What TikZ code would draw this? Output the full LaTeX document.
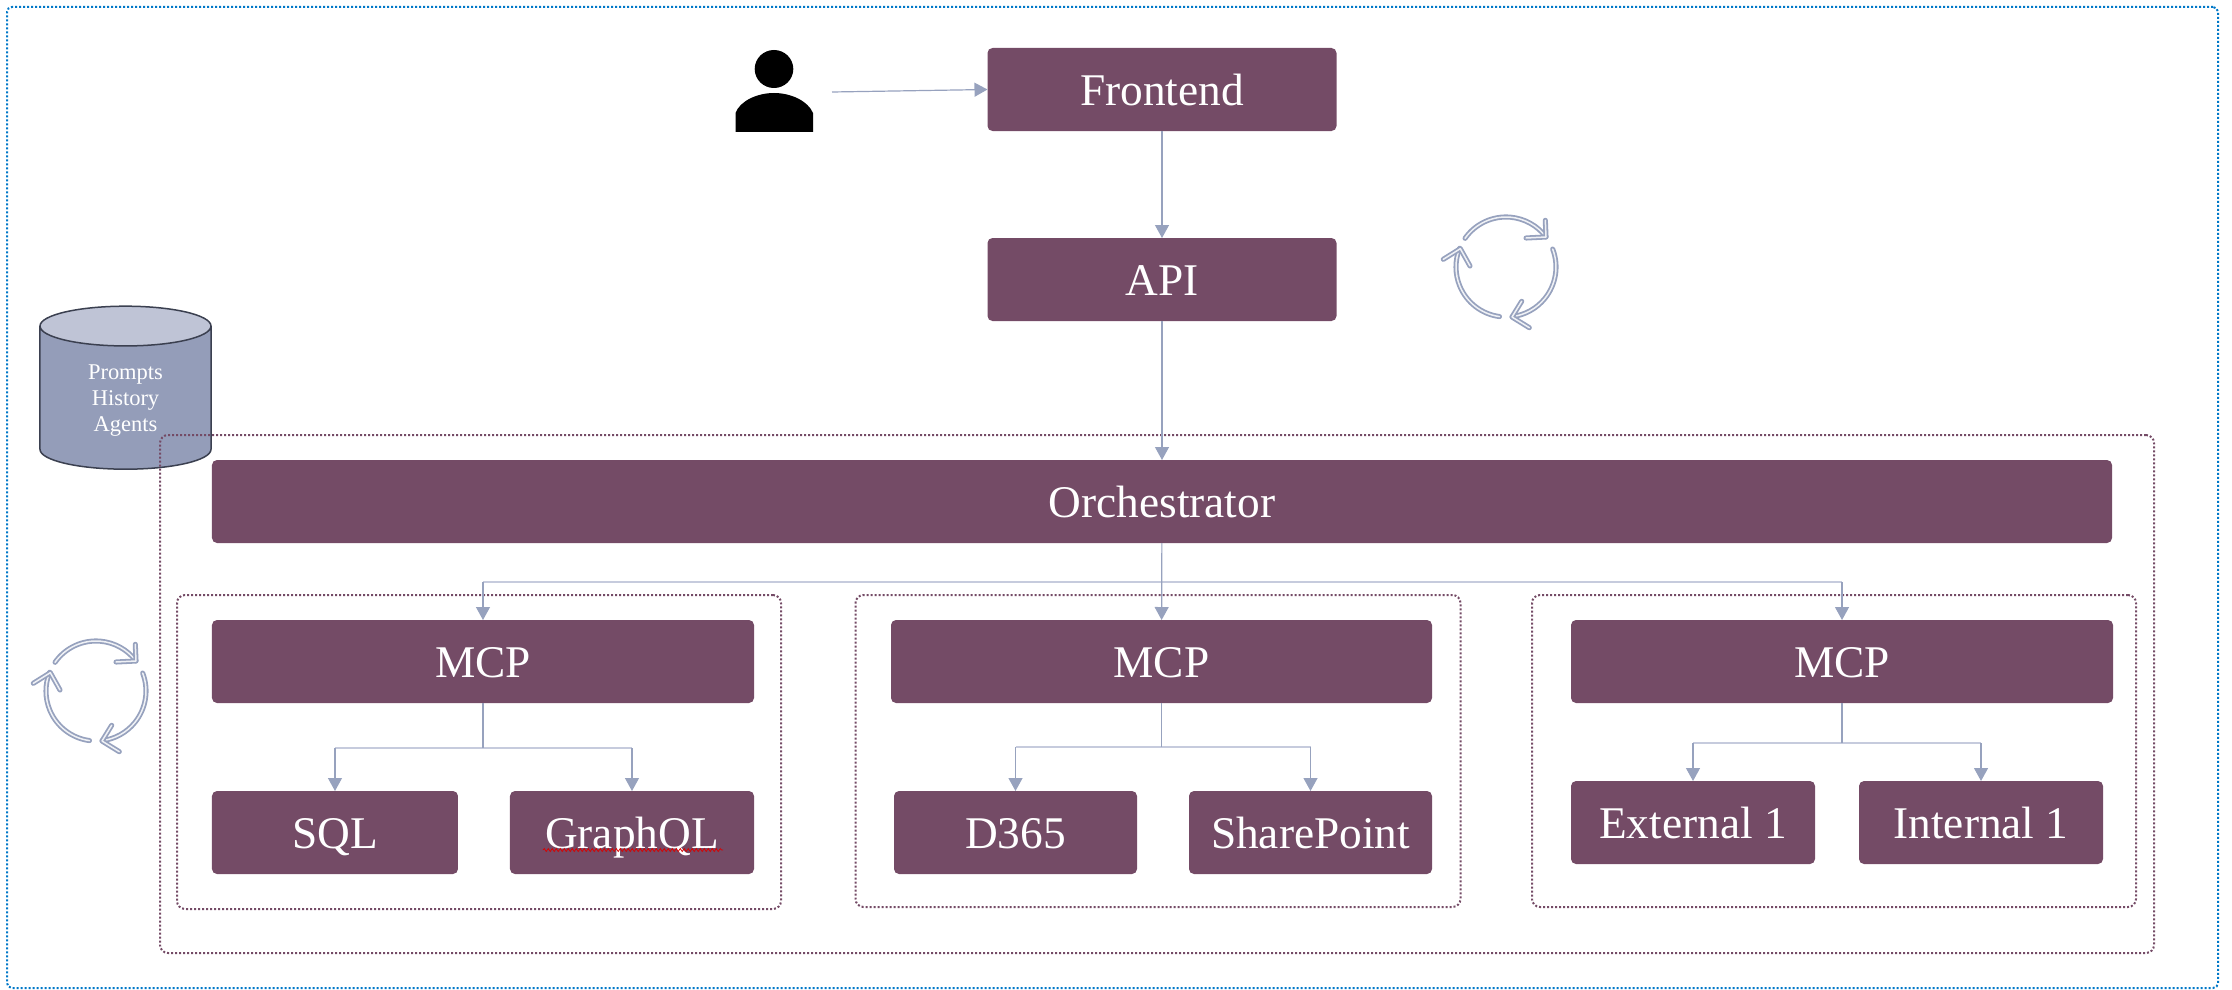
\documentclass[tikz,border=0pt]{standalone}
\usepackage{xcolor}
\usepackage{fontspec}
\setmainfont{Liberation Serif}
\usetikzlibrary{arrows.meta,positioning,calc,fit,shapes.geometric,decorations.pathmorphing}
\definecolor{Plum}{HTML}{744B66}
\definecolor{Steel}{HTML}{97A2BE}
\definecolor{SteelLt}{HTML}{C6CBDD}
\definecolor{DbTop}{HTML}{BFC4D6}
\definecolor{DbBody}{HTML}{949DB9}
\definecolor{DbLine}{HTML}{3B4050}
\definecolor{Edge}{HTML}{0078C8}

\begin{document}
\begin{tikzpicture}[x=0.2mm,y=-0.2mm,
    n/.style={fill=Plum,rounded corners=1mm,text=white,minimum height=16.6mm,inner sep=0pt,outer sep=0pt,text height=6.2mm,text depth=0pt,font=\fontsize{25.8}{30}\selectfont},
    a/.style={-{Triangle[length=2.6mm,width=2.8mm]},line width=0.24mm,draw=Steel},
    l/.style={line width=0.24mm,draw=Steel},
    br/.style={line width=0.42mm,draw=SteelLt},
    grp/.style={draw=Plum,line width=0.4mm,dash pattern=on 0.4mm off 0.4mm,rounded corners=1.6mm,inner sep=0pt},
    cyc/.style={draw=Steel,line width=0.36mm,double=white!85!Steel,double distance=0.3mm,line cap=round,line join=round},
    cycleicon/.pic={
      \begin{scope}[x=0.2mm,y=0.2mm]
        \draw[cyc] (145:50) arc[start angle=145,end angle=37,radius=50];
        \draw[cyc] (39.3,46.7) -- (40,30) -- (20,29);
        \draw[cyc] (21:50) arc[start angle=21,end angle=-83,radius=50];
        \draw[cyc] (15.7,-34.3) -- (6,-50) -- (23.3,-60.7);
        \draw[cyc] (262.5:50) arc[start angle=262.5,end angle=158,radius=50];
        \draw[cyc] (-62.7,7.7) -- (-45.7,18.3) -- (-36,1);
      \end{scope}
    }]
    \useasboundingbox (0,0) rectangle (2232,990);
    \node[draw=Edge,line width=0.4mm,dash pattern=on 0.4mm off 0.4mm,rounded corners=1mm,inner sep=0pt,fit={(7,7)(2218,988)}] (outer) {};

    % top of the stack
    \node[n,minimum width=69.8mm] (front) at (1162,89.5) {Frontend};
    \node[n,minimum width=69.8mm,below=21.4mm of front] (api) {API};
    \node[n,minimum width=380mm,below=27.8mm of api] (orch) {Orchestrator};

    % the user
    \fill (774,69) ellipse[x radius=19.3,y radius=19];
    \fill (735.5,132) -- (735.5,113) .. controls (740,101) and (757,93) .. (774,93) .. controls (791,93) and (808,101) .. (813,113) -- (813,132) -- cycle;
    \coordinate (usr) at (832,92);

    \node[cylinder,shape border rotate=90,aspect=0.53,draw=DbLine,line width=0.3mm,cylinder uses custom fill,cylinder body fill=DbBody,cylinder end fill=DbTop,minimum width=34.2mm,minimum height=32.6mm,inner sep=0pt,text=white,align=center,font=\fontsize{12.8}{14.8}\selectfont] (db) at (125.5,398) {\rule{0pt}{11.8pt}Prompts\\History\\Agents};

    % frames
    \node[grp,fit={(160,435)(2154,953)}] (core) {};
    \node[grp,fit={(177,595)(781,909)}] (grpa) {};
    \node[grp,fit={(855.5,595)(1460.5,907)}] (grpb) {};
    \node[grp,fit={(1532,595)(2136,907)}] (grpc) {};

    % first group
    \node[n,minimum width=108.4mm,below right=15.4mm and 0mm of orch.south west] (mcpa) {MCP};
    \node[n,minimum width=49.2mm,below right=17.6mm and 0mm of mcpa.south west] (sql) {SQL};
    \node[n,minimum width=48.8mm,right=10.4mm of sql] (gql) {GraphQL};
    % second group
    \node[n,minimum width=108.2mm,right=27.4mm of mcpa] (mcpb) {MCP};
    \node[n,minimum width=48.6mm,below right=17.6mm and 0.6mm of mcpb.south west] (dyn) {D365};
    \node[n,minimum width=48.6mm,right=10.4mm of dyn] (shp) {SharePoint};
    % third group
    \node[n,minimum width=108.4mm,right=27.8mm of mcpb] (mcpc) {MCP};
    \node[n,minimum width=48.8mm,below right=15.6mm and 0mm of mcpc.south west] (ext) {External 1};
    \node[n,minimum width=48.8mm,right=8.8mm of ext] (int) {Internal 1};

    \draw[red!85!black,line width=0.14mm,decorate,decoration={snake,segment length=0.8mm,amplitude=0.3mm}] (543,850) -- (723,850);

    \coordinate (joinorch) at (orch.south |- 0,582);
    \coordinate (joina) at (mcpa.south |- 0,748);
    \coordinate (joinb) at (mcpb.south |- 0,747);
    \coordinate (joinc) at (mcpc.south |- 0,743);

    % connectors
    \draw[a] (usr) -- (front.west);
    \draw[a] (front) -- (api);
    \draw[a] (api) -- (orch);
    \draw[br] (joinorch -| mcpa.north) -- (joinorch -| mcpc.north);
    \draw[a] (orch) -- (mcpb);
    \draw[a] (joinorch -| mcpa.north) -- (mcpa.north);
    \draw[a] (joinorch -| mcpc.north) -- (mcpc.north);
    \draw[br] (joina -| sql.north) -- (joina -| gql.north);
    \draw[l] (mcpa.south) -- (joina);
    \draw[a] (joina -| sql.north) -- (sql.north);
    \draw[a] (joina -| gql.north) -- (gql.north);
    \draw[br] (joinb -| dyn.north) -- (joinb -| shp.north);
    \draw[l] (mcpb.south) -- (joinb);
    \draw[a] (joinb -| dyn.north) -- (dyn.north);
    \draw[a] (joinb -| shp.north) -- (shp.north);
    \draw[br] (joinc -| ext.north) -- (joinc -| int.north);
    \draw[l] (mcpc.south) -- (joinc);
    \draw[a] (joinc -| ext.north) -- (ext.north);
    \draw[a] (joinc -| int.north) -- (int.north);

    \pic at (1506,267) {cycleicon};
    \pic at (96,691) {cycleicon};
  \end{tikzpicture}
\end{document}
